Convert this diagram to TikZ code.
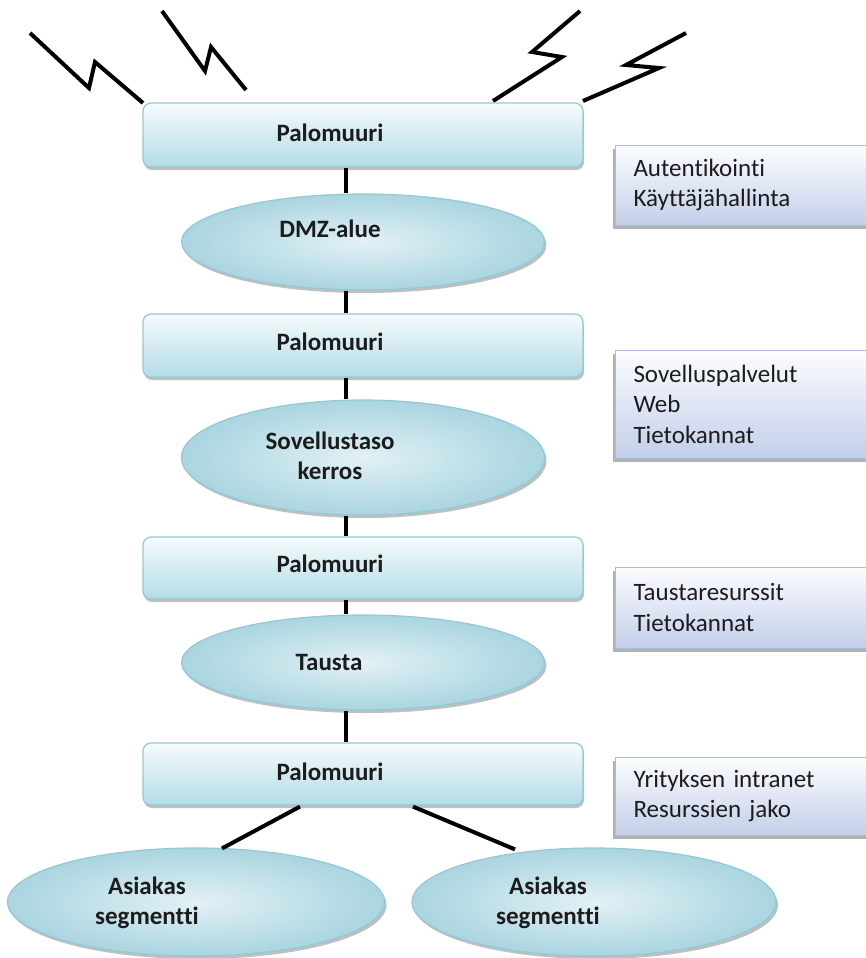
\documentclass[tikz,border=0pt]{standalone}
\usepackage{fontspec}
\setmainfont[Ligatures=NoCommon]{Carlito}
\usetikzlibrary{shapes.geometric,shadows,calc}
\newcommand\infotightspace{\spaceskip=2.5pt\relax}
\definecolor{fwtop}{HTML}{F6FBFC}
\definecolor{fwbot}{HTML}{B4DCE6}
\definecolor{fwline}{HTML}{93C9D6}
\definecolor{elin}{HTML}{E2F1F5}
\definecolor{elout}{HTML}{AAD5E0}
\definecolor{infotop}{HTML}{FCFDFF}
\definecolor{infobot}{HTML}{C3CFEA}
\definecolor{infoline}{HTML}{A8BCE0}
\definecolor{txt}{HTML}{1C1C1C}
\tikzset{
  fwbox/.style={draw=fwline, line width=1.2pt, rounded corners=8pt,
    top color=fwtop, bottom color=fwbot, minimum width=440pt, inner sep=0pt,
    drop shadow={shadow xshift=1pt, shadow yshift=-3pt, fill=black, opacity=.25}},
  zone/.style={ellipse, draw=fwline, line width=1.2pt, inner sep=0pt,
    inner color=elin, outer color=elout,
    drop shadow={shadow xshift=2pt, shadow yshift=-3pt, fill=black, opacity=.25}},
  lbl/.style={font=\bfseries\fontsize{25}{30}\selectfont, text=txt, align=center, inner sep=0pt},
  info/.style={draw=infoline, line width=1pt, top color=infotop, bottom color=infobot,
    anchor=west, text width=250pt, inner xsep=18pt, inner ysep=0pt, align=left,
    font=\fontsize{25}{30.5}\selectfont\infotightspace, text=txt,
    drop shadow={shadow xshift=-3pt, shadow yshift=-4pt, fill=black, opacity=.3}},
  conn/.style={line width=4pt, black},
  bolt/.style={line width=4pt, black, line join=miter}
}
\begin{document}
\begin{tikzpicture}[x=1pt,y=1pt]
\useasboundingbox[fill=white] (0,0) rectangle (865,-958);

% lightning bolts above the outer firewall
\draw[bolt] (30,-33) -- (89,-88) -- (95,-62) -- (143,-103);
\draw[bolt] (162,-11) -- (205,-71) -- (211,-47) -- (246,-90);
\draw[bolt] (580,-11) -- (532,-52) -- (562,-57) -- (493,-101);
\draw[bolt] (686,-33) -- (626,-65) -- (659,-68) -- (583,-101);

% vertical chain: firewalls and zones
\node[fwbox, minimum height=64pt] (b1) at (363,-135) {};
\node[zone, minimum width=363pt, minimum height=96pt] (e1) at (363,-242) {};
\node[fwbox, minimum height=63pt] (b2) at (363,-345.5) {};
\node[zone, minimum width=363pt, minimum height=115pt] (e2) at (363,-457.5) {};
\node[fwbox, minimum height=62pt] (b3) at (363,-568) {};
\node[zone, minimum width=363pt, minimum height=95pt] (e3) at (363,-662.5) {};
\node[fwbox, minimum height=62pt] (b4) at (363,-774) {};
\node[zone, minimum width=377pt, minimum height=108pt] (a1) at (196,-902) {};
\node[zone, minimum width=364pt, minimum height=108pt] (a2) at (594,-902) {};

% connectors
\begin{scope}[transform canvas={xshift=-17pt}]
\draw[conn] (b1) -- (e1);
\draw[conn] (e1) -- (b2);
\draw[conn] (b2) -- (e2);
\draw[conn] (e2) -- (b3);
\draw[conn] (b3) -- (e3);
\draw[conn] (e3) -- (b4);
\end{scope}
\draw[conn] ($(b4.south)+(-63,-1)$) -- ($(a1.north)+(26,-1)$);
\draw[conn] ($(b4.south)+(50,-1)$) -- ($(a2.north)+(-79,-2)$);

% labels
\node[lbl] (t1) at (330,-133) {Palomuuri};
\node[lbl] (t2) at (330,-229) {DMZ-alue};
\node[lbl] (t3) at (330,-342) {Palomuuri};
\node[lbl] (t4) at (330,-456) {Sovellustaso\\kerros};
\node[lbl] (t5) at (330,-564) {Palomuuri};
\node[lbl] (t6) at (329,-662) {Tausta};
\node[lbl] (t7) at (330,-772) {Palomuuri};
\node[lbl] (t8) at (147,-903) {Asiakas\\segmentti};
\node[lbl] (t9) at (548,-903) {Asiakas\\segmentti};

% service descriptions on the right
\node[info, minimum height=80pt] (r1) at (615,-185) {Autentikointi\\Käyttäjähallinta};
\node[info, minimum height=108pt] (r2) at (615,-404) {Sovelluspalvelut\\Web\\Tietokannat};
\node[info, minimum height=81pt] (r3) at (615,-607.5) {Taustaresurssit\\Tietokannat};
\node[info, minimum height=78pt] (r4) at (615,-796) {Yrityksen intranet\\Resurssien jako};
\end{tikzpicture}
\end{document}
